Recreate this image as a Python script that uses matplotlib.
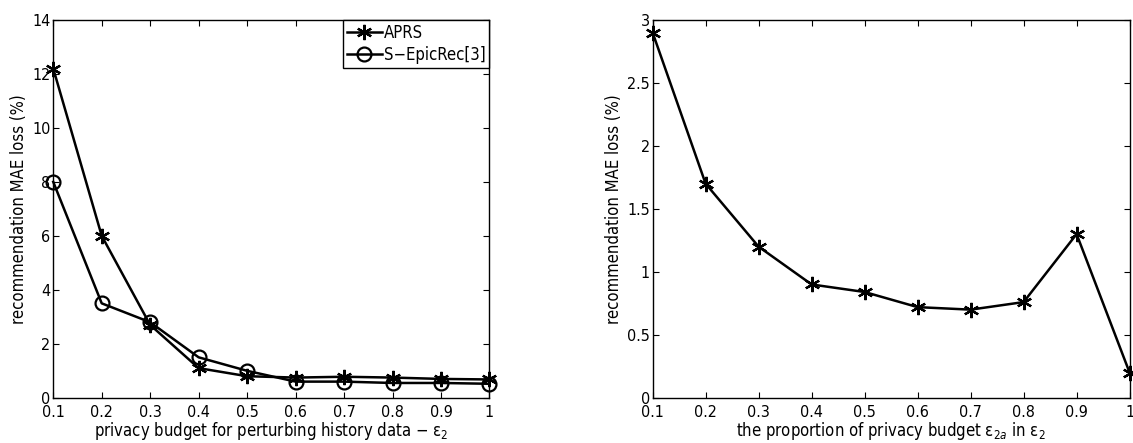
import matplotlib
matplotlib.use("Agg")
import matplotlib.pyplot as plt

plt.rcParams["font.family"] = "DejaVu Sans"
plt.rcParams["font.stretch"] = "condensed"
plt.rcParams["mathtext.fontset"] = "dejavusans"

budget = [0.1, 0.2, 0.3, 0.4, 0.5, 0.6, 0.7, 0.8, 0.9, 1.0]
aprs = [12.2, 6.0, 2.7, 1.1, 0.8, 0.75, 0.78, 0.75, 0.7, 0.68]
epicrec = [8.0, 3.5, 2.8, 1.5, 1.0, 0.6, 0.6, 0.55, 0.55, 0.52]

proportion = [0.1, 0.2, 0.3, 0.4, 0.5, 0.6, 0.7, 0.8, 0.9, 1.0]
aprs_prop = [2.9, 1.7, 1.2, 0.9, 0.84, 0.72, 0.70, 0.76, 1.3, 0.2]

xticks = [0.1, 0.2, 0.3, 0.4, 0.5, 0.6, 0.7, 0.8, 0.9, 1.0]
xticklabels = ["0.1", "0.2", "0.3", "0.4", "0.5", "0.6", "0.7", "0.8", "0.9", "1"]

STAR = (6, 2, 0)

fig = plt.figure(figsize=(11.33, 4.43), dpi=100)
ax1 = fig.add_axes([0.047, 0.102, 0.385, 0.853])
ax2 = fig.add_axes([0.576, 0.102, 0.421, 0.853])


def style(ax):
    ax.tick_params(direction="in", top=True, right=True, labelsize=11.5, length=4, width=0.8)
    ax.tick_params(axis="y", pad=2)
    ax.tick_params(axis="x", pad=5)
    for s in ax.spines.values():
        s.set_linewidth(1.0)
    ax.set_xticks(xticks)
    ax.set_xticklabels(xticklabels)
    ax.set_xlim(0.1, 1.0)


ax1.plot(budget, aprs, color="black", lw=1.8, marker=STAR, ms=11, mew=1.6, label="APRS", clip_on=False, zorder=3)
ax1.plot(budget, epicrec, color="black", lw=1.8, marker="o", ms=10, mfc="none", mew=1.6,
         label="S\u2212EpicRec[3]", clip_on=False, zorder=3)
style(ax1)
ax1.set_ylim(0, 14)
ax1.set_yticks(range(0, 15, 2))
ax1.set_ylabel("recommendation MAE loss (%)", fontsize=12, labelpad=3)
ax1.set_xlabel("privacy budget for perturbing history data \u2212 \u03b5$_2$", fontsize=12, labelpad=0)
leg = ax1.legend(loc="upper right", fontsize=12, fancybox=False, edgecolor="black", framealpha=1,
                 borderaxespad=0.0, handlelength=2.1, handletextpad=0.1, borderpad=0.25, labelspacing=0.25)
leg.get_frame().set_linewidth(1.0)

ax2.plot(proportion, aprs_prop, color="black", lw=1.8, marker=STAR, ms=11, mew=1.6, clip_on=False, zorder=3)
style(ax2)
ax2.set_ylim(0, 3)
ax2.set_yticks([0, 0.5, 1, 1.5, 2, 2.5, 3])
ax2.set_yticklabels(["0", "0.5", "1", "1.5", "2", "2.5", "3"])
ax2.set_ylabel("recommendation MAE loss (%)", fontsize=12, labelpad=3)
ax2.set_xlabel("the proportion of privacy budget \u03b5$_{2a}$ in \u03b5$_2$", fontsize=12, labelpad=0)

fig.savefig("out.png", dpi=100, facecolor="white")
